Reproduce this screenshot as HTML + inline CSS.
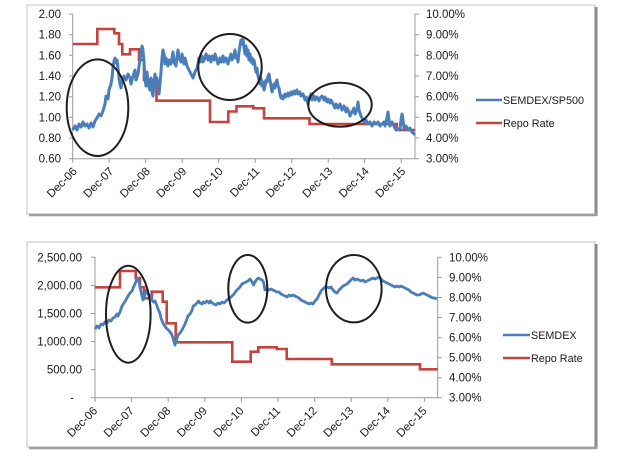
<!DOCTYPE html>
<html><head><meta charset="utf-8"><style>
html,body{margin:0;padding:0;background:#fff;}
svg{display:block;}
text{font-family:"Liberation Sans",sans-serif;fill:#1a1a1a;}
</style></head><body>
<svg width="620" height="450" viewBox="0 0 620 450" xmlns="http://www.w3.org/2000/svg">
<rect x="0" y="0" width="620" height="450" fill="#fff"/>
<!-- Top frame -->
<rect x="27" y="5" width="568" height="209" fill="#fff" stroke="#c0c0c0" stroke-width="1"/>
<line x1="596" y1="7" x2="596" y2="216" stroke="#8a8a8a" stroke-width="3"/>
<line x1="29" y1="215" x2="597" y2="215" stroke="#a0a0a0" stroke-width="2.5"/>
<!-- Bottom frame -->
<rect x="27" y="242" width="568" height="205" fill="#fff" stroke="#c0c0c0" stroke-width="1"/>
<line x1="596" y1="244" x2="596" y2="449" stroke="#8a8a8a" stroke-width="3"/>
<line x1="29" y1="448" x2="597" y2="448" stroke="#a0a0a0" stroke-width="2.5"/>

<!-- TOP CHART AXES -->
<g stroke="#9a9a9a" stroke-width="1" fill="none">
<path d="M72.7 14V158.7H415V14"/>
<path d="M69 14H72.7M69 34.7H72.7M69 55.3H72.7M69 76H72.7M69 96.7H72.7M69 117.3H72.7M69 138H72.7M69 158.7H72.7"/>
<path d="M415 14H419M415 34.7H419M415 55.3H419M415 76H419M415 96.7H419M415 117.3H419M415 138H419M415 158.7H419"/>
<path d="M72.7 158.7V163M109.2 158.7V163M145.7 158.7V163M182.2 158.7V163M218.7 158.7V163M255.2 158.7V163M291.7 158.7V163M328.2 158.7V163M364.7 158.7V163M401.2 158.7V163"/>
</g>
<g font-size="11.5" text-anchor="end">
<text x="61" y="18">2.00</text><text x="61" y="38.7">1.80</text><text x="61" y="59.3">1.60</text><text x="61" y="80">1.40</text><text x="61" y="100.7">1.20</text><text x="61" y="121.3">1.00</text><text x="61" y="142">0.80</text><text x="61" y="162.7">0.60</text>
</g>
<g font-size="11.5" text-anchor="start">
<text x="426" y="18">10.00%</text><text x="426" y="38.7">9.00%</text><text x="426" y="59.3">8.00%</text><text x="426" y="80">7.00%</text><text x="426" y="100.7">6.00%</text><text x="426" y="121.3">5.00%</text><text x="426" y="142">4.00%</text><text x="426" y="162.7">3.00%</text>
</g>
<g font-size="11.5" text-anchor="end">
<text transform="translate(77.7,172) rotate(-45)">Dec-06</text>
<text transform="translate(114.2,172) rotate(-45)">Dec-07</text>
<text transform="translate(150.7,172) rotate(-45)">Dec-08</text>
<text transform="translate(187.2,172) rotate(-45)">Dec-09</text>
<text transform="translate(223.7,172) rotate(-45)">Dec-10</text>
<text transform="translate(260.2,172) rotate(-45)">Dec-11</text>
<text transform="translate(296.7,172) rotate(-45)">Dec-12</text>
<text transform="translate(333.2,172) rotate(-45)">Dec-13</text>
<text transform="translate(369.7,172) rotate(-45)">Dec-14</text>
<text transform="translate(406.2,172) rotate(-45)">Dec-15</text>
</g>
<!-- top red -->
<path fill="none" stroke="#c4433e" stroke-width="2.6" stroke-linejoin="miter" d="M72.7 44H97.3V29H114.3V33.3H119V44H122.3V54.3H130V49.3H139V60H144V80H156.5V100.7H210V122H228.3V111.5H236.5V106.3H253.3V108.3H264V118.3H309.5V124H396.7V130H415"/>
<!-- top blue -->
<polyline fill="none" stroke="#4a7ebb" stroke-width="3" stroke-linejoin="round" points="72.7,130 75,126 77,130 79,124 81,127 83,122 85,126 87,124 89,128 91,123 93,127 95,121 97,118 99,114 101,116 103,111 105,104 106,96 108,99 109,90 111,84 112,78 113,67 114,61 115,58 116,63 117,60 118,68 119,78 120,84 121,88 122,82 124,76 126,80 128,74 130,78 131,84 133,76 135,70 136,80 138,74 139,66 140,60 141,52 142,46 143,50 144,62 145,80 146,86 147,72 148,84 150,90 151,78 152,92 153,96 154,84 155,74 156,82 157,78 158,88 159,94 160,84 161,72 162,58 163,50 164,54 165,64 166,58 168,66 169,60 171,64 172,58 173,52 174,62 176,66 177,56 178,50 179,58 181,62 182,54 184,64 185,58 187,66 189,70 191,74 193,78 195,72 197,68 198,64 199,58 200,62 202,56 203,62 205,58 206,54 208,60 209,56 211,62 212,56 214,60 215,54 217,60 218,64 220,58 221,62 223,56 224,62 226,58 228,64 229,60 231,54 232,60 234,56 235,50 236,58 237,56 238,62 239,52 240,46 241,40 242,44 243,38 244,48 245,54 246,46 247,56 248,50 249,60 250,54 251,62 252,58 253,64 254,60 255,66 256,72 257,68 258,76 259,80 260,84 261,78 262,86 263,82 264,90 265,86 266,80 267,82 268,76 269,74 270,80 271,86 272,92 273,88 274,84 275,88 276,82 277,80 278,86 279,88 280,94 281,98 282,96 283,99 285,94 286,97 288,93 289,96 291,92 292,95 294,91 295,94 297,90 298,94 300,92 301,96 303,94 305,100 306,97 308,104 309,98 311,94 312,100 314,96 315,100 317,97 319,101 320,98 322,96 324,100 325,97 327,102 328,99 330,103 331,100 333,104 335,108 336,104 338,108 340,104 342,110 344,106 346,112 347,108 349,112 350,116 352,112 354,108 355,114 357,110 358,102 359,110 361,116 362,118 364,122 366,120 368,124 370,122 372,126 374,122 376,124 378,122 380,126 382,124 384,122 385,126 387,118 388,112 389,120 390,126 392,122 394,126 396,130 398,129 400,130 401,120 402,114 403,120 404,128 406,126 408,130 410,128 412,132 414,134 415,133"/>
<!-- top ellipses -->
<g fill="none" stroke="#1e1e1e" stroke-width="2">
<ellipse cx="97.5" cy="107.7" rx="30.8" ry="48.3"/>
<ellipse cx="230" cy="67" rx="31.7" ry="33"/>
<ellipse cx="340" cy="104.7" rx="31.7" ry="22"/>
</g>
<!-- top legend -->
<line x1="476" y1="100" x2="502" y2="100" stroke="#4a7ebb" stroke-width="2.6"/>
<line x1="476" y1="123" x2="502" y2="123" stroke="#c4433e" stroke-width="2.6"/>
<g font-size="10.8"><text x="503" y="104">SEMDEX/SP500</text><text x="503" y="127">Repo Rate</text></g>

<!-- BOTTOM CHART AXES -->
<g stroke="#9a9a9a" stroke-width="1" fill="none">
<path d="M95 257.3V397.7H437.7V257.3"/>
<path d="M91 257.3H95M91 285.4H95M91 313.5H95M91 341.5H95M91 369.6H95M91 397.7H95"/>
<path d="M437.7 257.3H441.7M437.7 277.4H441.7M437.7 297.5H441.7M437.7 317.5H441.7M437.7 337.6H441.7M437.7 357.6H441.7M437.7 377.7H441.7M437.7 397.7H441.7"/>
<path d="M95 397.7V402M131.6 397.7V402M168.2 397.7V402M204.8 397.7V402M241.4 397.7V402M278 397.7V402M314.6 397.7V402M351.2 397.7V402M387.8 397.7V402M424.4 397.7V402"/>
</g>
<g font-size="11.5" text-anchor="end">
<text x="82" y="261.3">2,500.00</text><text x="82" y="289.4">2,000.00</text><text x="82" y="317.5">1,500.00</text><text x="82" y="345.5">1,000.00</text><text x="82" y="373.6">500.00</text><text x="74" y="401.7">-</text>
</g>
<g font-size="11.5" text-anchor="start">
<text x="449" y="261.3">10.00%</text><text x="449" y="281.4">9.00%</text><text x="449" y="301.5">8.00%</text><text x="449" y="321.5">7.00%</text><text x="449" y="341.6">6.00%</text><text x="449" y="361.6">5.00%</text><text x="449" y="381.7">4.00%</text><text x="449" y="401.7">3.00%</text>
</g>
<g font-size="11.5" text-anchor="end">
<text transform="translate(98,411.5) rotate(-45)">Dec-06</text>
<text transform="translate(134.6,411.5) rotate(-45)">Dec-07</text>
<text transform="translate(171.2,411.5) rotate(-45)">Dec-08</text>
<text transform="translate(207.8,411.5) rotate(-45)">Dec-09</text>
<text transform="translate(244.4,411.5) rotate(-45)">Dec-10</text>
<text transform="translate(281,411.5) rotate(-45)">Dec-11</text>
<text transform="translate(317.6,411.5) rotate(-45)">Dec-12</text>
<text transform="translate(354.2,411.5) rotate(-45)">Dec-13</text>
<text transform="translate(390.8,411.5) rotate(-45)">Dec-14</text>
<text transform="translate(427.4,411.5) rotate(-45)">Dec-15</text>
</g>
<!-- bottom red -->
<path fill="none" stroke="#c4433e" stroke-width="2.6" d="M95 287.3H120V271H135.7V278H140V287.3H144V298.3H151.7V291.7H162.7V301.7H166.7V323.3H175.7V342.3H232.3V361.7H250.7V351.7H258.3V347.3H276.7V349H286.7V359H331.7V364.3H420V369.3H437.7"/>
<!-- bottom blue -->
<polyline fill="none" stroke="#4a7ebb" stroke-width="2.8" stroke-linejoin="round" points="95,329 97,326 99,328 101,324 103,325 105,322 107,323 109,320 111,321 113,318 115,317 117,314 118,316 120,312 122,306 124,303 126,300 128,296 130,293 132,291 133.5,287 135,284 136.5,280 137.7,278 139,282 140,287 141.5,294 143,300 144.5,296 146,290 147.5,292 149,296 150.5,295 152,300 153.5,302 155,301 156.7,305 158,309 159.5,312 161,318 162.5,322 164,325 165.5,327 167,329 168.5,330 170,332 171.5,334 173,338 174,342 175,345 176.5,340 178,335 180,333 182,330 183.5,327 185,324 186.5,320 188,316 190,314 191.7,311 193.3,306 195,305 197,303 198.5,301 200,303 202,304 203.5,302 205,303 207,301 209,303 210.5,301 212,303 214,304 216,305 218,303 220,304 222,302 224,303 226,301 228,299 230,298 232,296 234,294 236,291 238,289 240,287 242,284 244,283 246,282 248,281 250,279 252,282 253.5,285 255,282 257,279 258.5,278 260,279 262,280 263.5,282 265,290 267,289 269,290 271,289 273,290 275,291 277,292 279,292 281,294 283,295 285,296 287,297 289,295 291,296 293,295 295,296 297,297 299,298 301,300 303,301 305,302 307,303 309,304 311,303 313,304 315,301 317,299 319,295 321,291 323,289 325,287 327,287 329,288 331,287 333,290 335,292 337,293 339,290 341,288 343,286 345,285 347,284 349,282 351,280 353,278 355,280 357,279 359,280 361,281 363,280 365,282 367,281 369,280 371,279 373,278 375,279 377,278 379,277 381,279 383,281 385,282 387,283 389,284 391,285 393,286 395,287 397,286 399,287 401,286 403,287 405,288 407,289 409,290 411,292 413,293 415,294 417,295 419,295 421,294 423,293 425,294 427,295 429,296 431,297 433,298 435,298 437,299"/>
<!-- bottom ellipses -->
<g fill="none" stroke="#1e1e1e" stroke-width="2">
<ellipse cx="128.3" cy="314.2" rx="22.3" ry="48.5"/>
<ellipse cx="247.8" cy="288.8" rx="19.5" ry="33.8"/>
<ellipse cx="353.8" cy="288.7" rx="27.8" ry="33.7"/>
</g>
<!-- bottom legend -->
<line x1="503" y1="335" x2="530" y2="335" stroke="#4a7ebb" stroke-width="2.6"/>
<line x1="503" y1="358" x2="530" y2="358" stroke="#c4433e" stroke-width="2.6"/>
<g font-size="10.8"><text x="531" y="339">SEMDEX</text><text x="531" y="362">Repo Rate</text></g>
</svg>
</body></html>
